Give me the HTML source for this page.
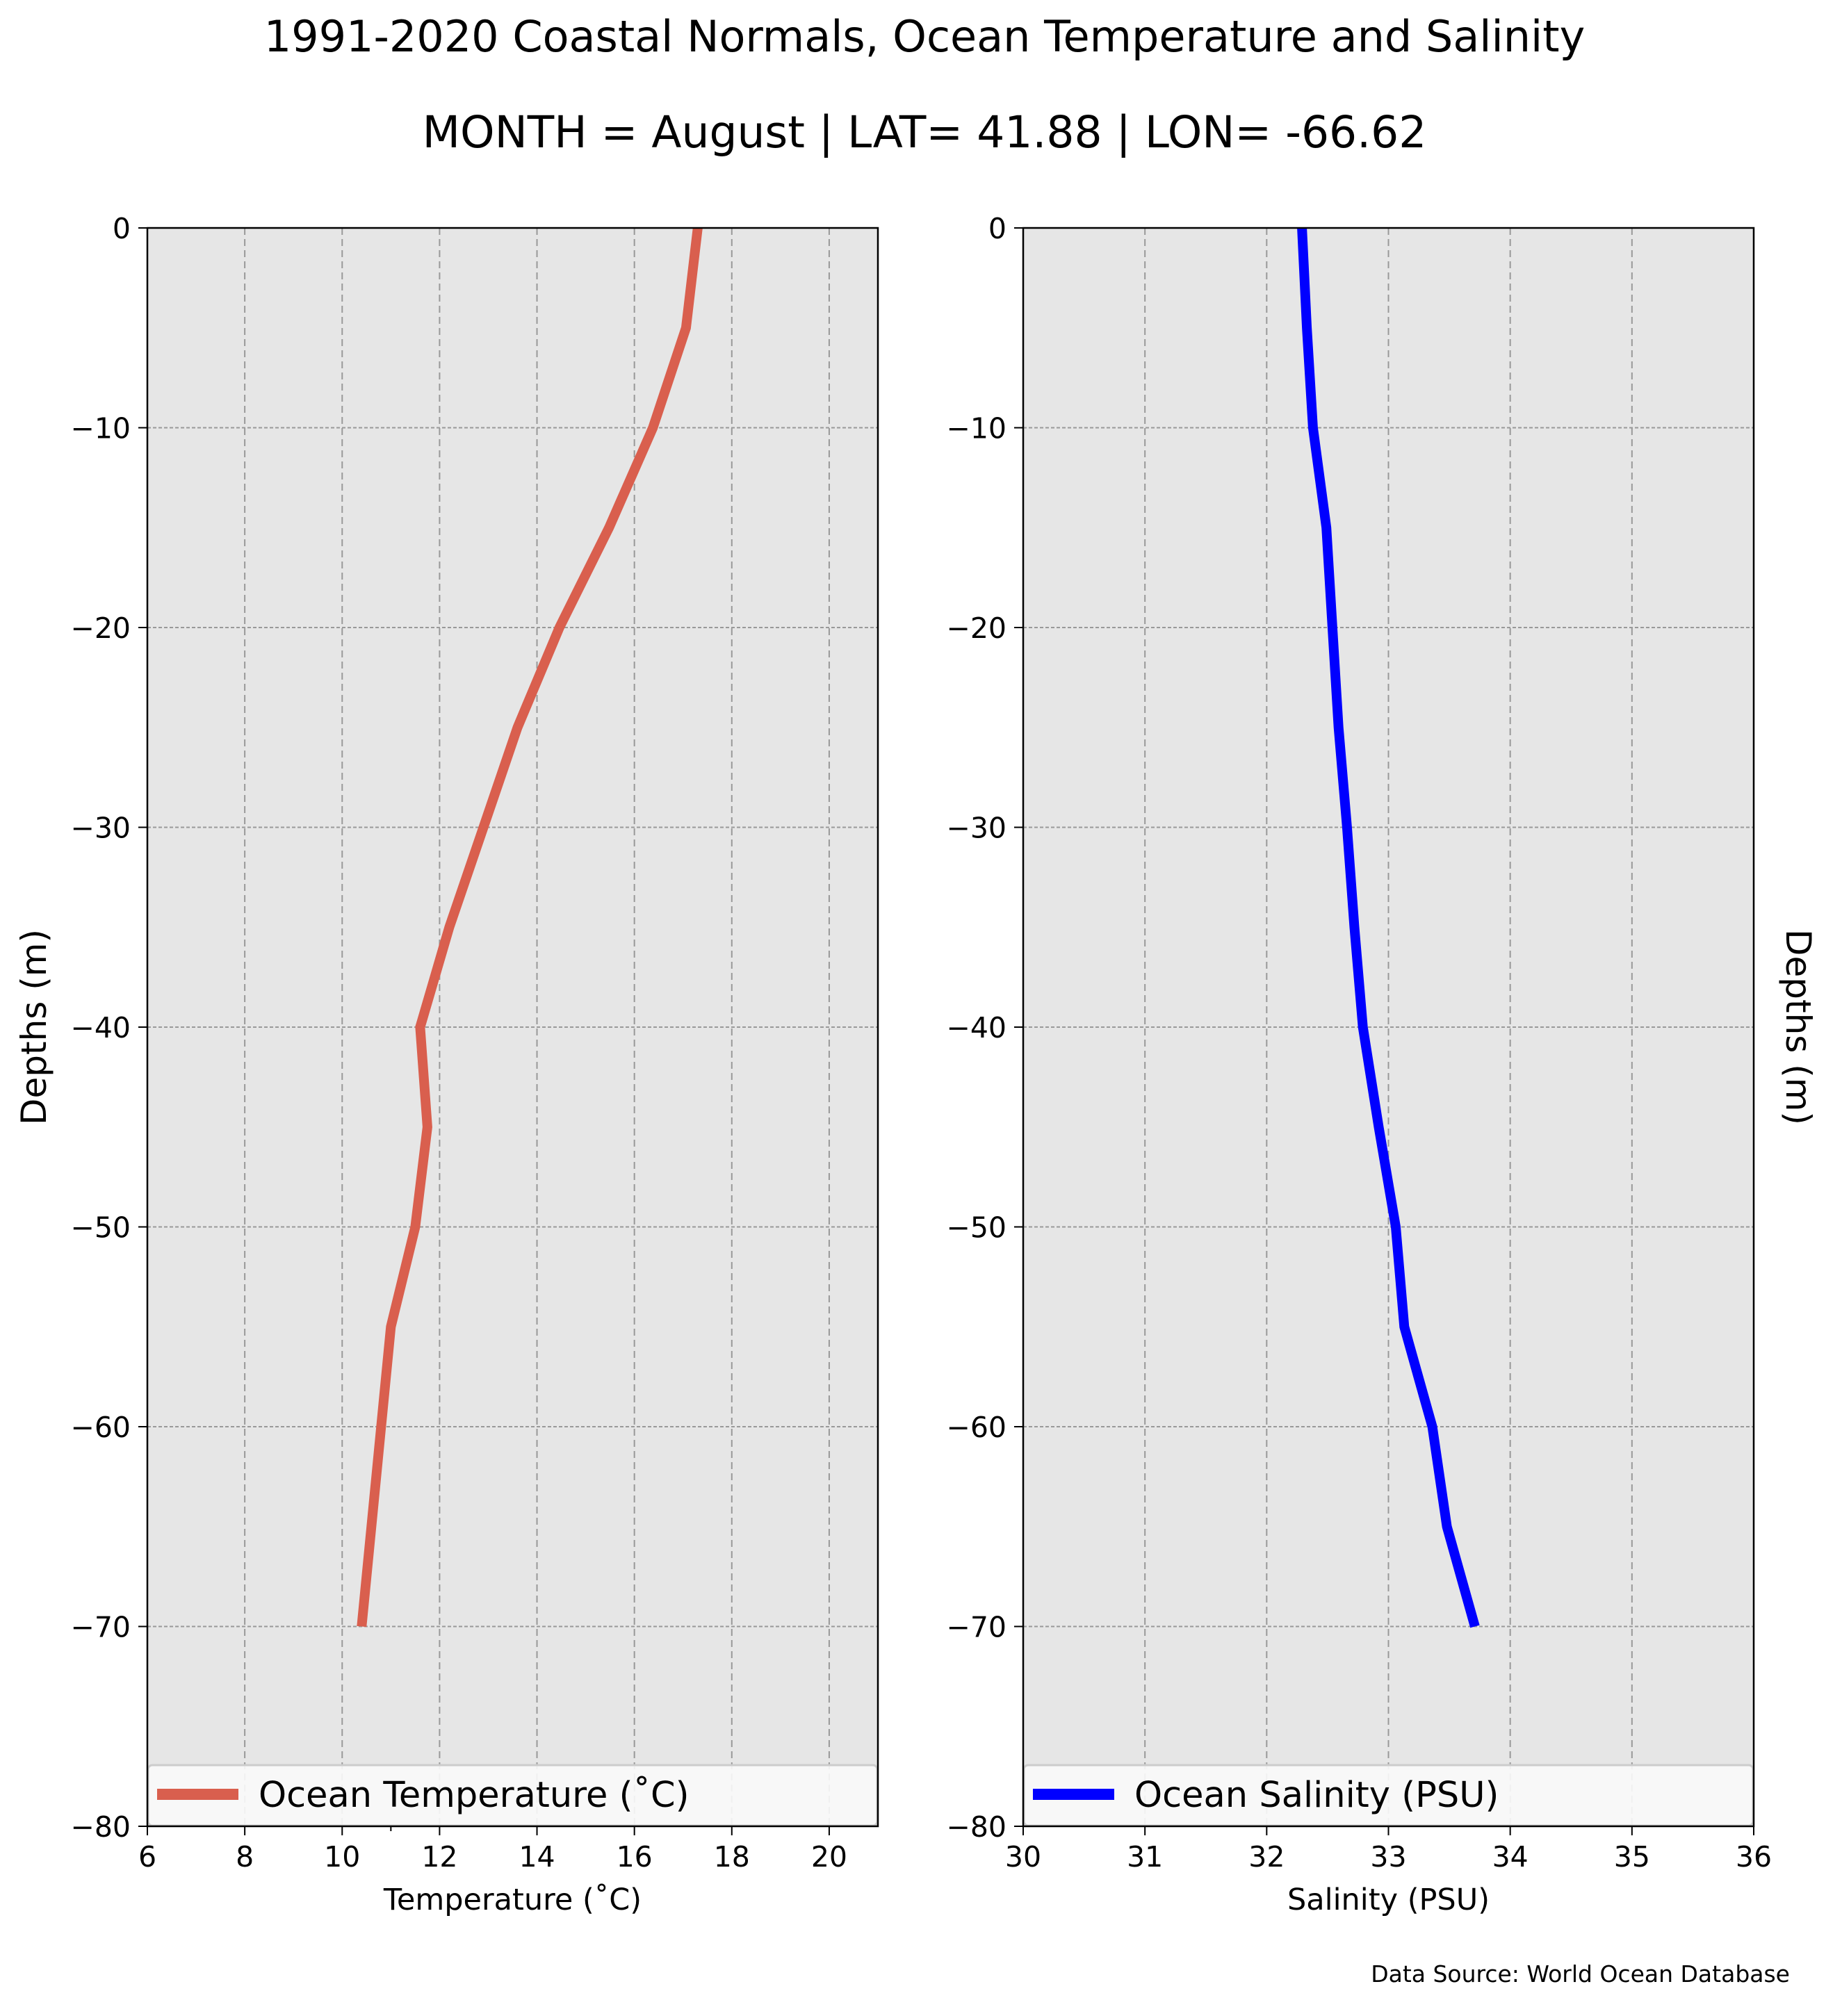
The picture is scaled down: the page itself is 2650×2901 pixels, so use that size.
<!DOCTYPE html>
<html><head><meta charset="utf-8">
<style>
html,body{margin:0;padding:0;background:#fff;}
svg{display:block;font-family:"DejaVu Sans","Liberation Sans",sans-serif;}
</style></head>
<body>
<svg id="fig" xmlns="http://www.w3.org/2000/svg" width="2650" height="2901" viewBox="0 0 2650 2901">
<rect width="2650" height="2901" fill="#fff"/>
<text x="1330" y="74" font-size="62" text-anchor="middle">1991-2020 Coastal Normals, Ocean Temperature and Salinity</text>
<text x="1330" y="212" font-size="63" text-anchor="middle">MONTH = August | LAT= 41.88 | LON= -66.62</text>
<g id="left"></g>
<g id="right"></g>
<text transform="translate(66,1478) rotate(-90)" font-size="50" text-anchor="middle">Depths (m)</text>
<text transform="translate(2570,1478) rotate(90)" font-size="50" text-anchor="middle">Depths (m)</text>
<text x="2575" y="2852" font-size="33" text-anchor="end">Data Source: World Ocean Database</text>
</svg>
<script>
const depths = [0,-5,-10,-15,-20,-25,-30,-35,-40,-45,-50,-55,-60,-65,-70];
const temperature = [17.3,17.06,16.38,15.48,14.46,13.6,12.9,12.2,11.6,11.75,11.5,11.0,10.8,10.6,10.4];
const salinity = [32.29,32.33,32.38,32.49,32.54,32.59,32.66,32.72,32.79,32.92,33.06,33.13,33.36,33.48,33.71];
const depthTicks = [0,-10,-20,-30,-40,-50,-60,-70,-80];
const tempTicks = [6,8,10,12,14,16,18,20];
const salTicks = [30,31,32,33,34,35,36];

const NS='http://www.w3.org/2000/svg';
function mk(tag, attrs, parent){const e=document.createElementNS(NS,tag);for(const k in attrs)e.setAttribute(k,attrs[k]);parent.appendChild(e);return e;}
const TOP=328, BOT=2628;
function yScale(d){return TOP+(0-d)/80*(BOT-TOP);}

function panel(g, x0, x1, xmin, xmax, xticks, values, color, legendText, xlabel, minorTicks){
  const xs=v=>x0+(v-xmin)/(xmax-xmin)*(x1-x0);
  const bg=mk('rect',{x:x0,y:TOP,width:x1-x0,height:BOT-TOP,fill:'#e6e6e6'},g);
  
  
  xticks.forEach(t=>{
    const gl=mk('line',{x1:xs(t),x2:xs(t),y1:TOP,y2:BOT,stroke:'#999',"stroke-width":2,"stroke-dasharray":"10,6"},g);
    
    
    const tk=mk('line',{x1:xs(t),x2:xs(t),y1:BOT,y2:BOT+13,stroke:'#000',"stroke-width":2},g);
    
    
    const tl=mk('text',{x:xs(t),y:BOT+58,"font-size":41,"text-anchor":"middle"},g);
    tl.textContent=String(t);
    
    
  });
  minorTicks.forEach(t=>{
    const mt=mk('line',{x1:xs(t),x2:xs(t),y1:BOT,y2:BOT+7,stroke:'#000',"stroke-width":2},g);
    
    
  });
  depthTicks.forEach(d=>{
    const y=yScale(d);
    const gl=mk('line',{x1:x0,x2:x1,y1:y,y2:y,stroke:'#999',"stroke-width":2,"stroke-dasharray":"5,3"},g);
    
    
    const tk=mk('line',{x1:x0-13,x2:x0,y1:y,y2:y,stroke:'#000',"stroke-width":2},g);
    
    
    const tl=mk('text',{x:x0-24,y:y+15,"font-size":41,"text-anchor":"end"},g);
    tl.textContent=d<0?'\u2212'+Math.abs(d):String(d);
    
    
  });
  const pts=values.map((v,i)=>xs(v).toFixed(1)+','+yScale(depths[i]).toFixed(1)).join(' ');
  const ln=mk('polyline',{points:pts,fill:'none',stroke:color,"stroke-width":14,"stroke-linejoin":"miter"},g);
  
  
  const lg=mk('rect',{x:x0+1,y:2540,width:x1-x0-2,height:87,rx:6,fill:'#fafafa',stroke:'#cccccc',"stroke-width":3,"fill-opacity":0.9},g);
  
  
  const lh=mk('line',{x1:x0+14,x2:x0+131,y1:2582,y2:2582,stroke:color,"stroke-width":16},g);
  
  
  const lt=mk('text',{x:x0+160,y:2600,"font-size":51},g);
  lt.textContent=legendText;
  
  
  const fr=mk('rect',{x:x0,y:TOP,width:x1-x0,height:BOT-TOP,fill:'none',stroke:'#000',"stroke-width":2.5},g);
  
  
  const xl=mk('text',{x:(x0+x1)/2,y:2748,"font-size":43,"text-anchor":"middle"},g);
  xl.textContent=xlabel;
  
  
}
panel(document.getElementById('left'),212,1263,6,21,tempTicks,temperature,'#d95f4e','Ocean Temperature (\u02daC)','Temperature (\u02daC)',[11]);
panel(document.getElementById('right'),1472,2523,30,36,salTicks,salinity,'#0000ff','Ocean Salinity (PSU)','Salinity (PSU)',[]);
</script>
</body></html>
